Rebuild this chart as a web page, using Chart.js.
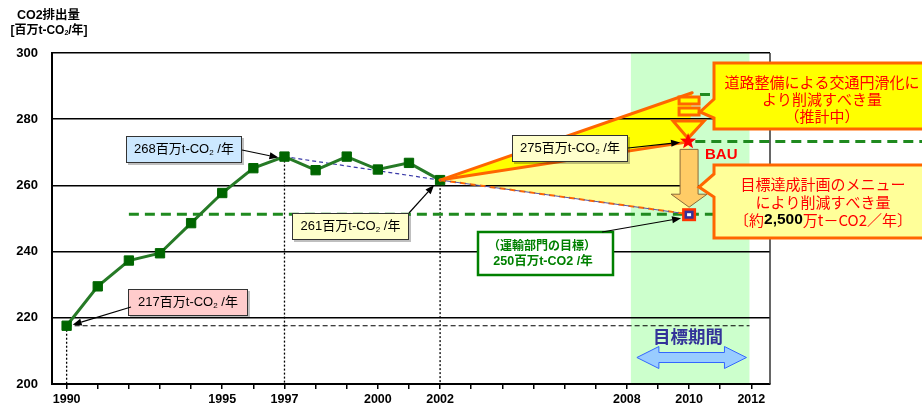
<!DOCTYPE html>
<html>
<head>
<meta charset="utf-8">
<script src="https://cdn.jsdelivr.net/npm/chart.js"></script>
<style>
  html, body { margin: 0; padding: 0; background: #fff; }
  #wrap { width: 922px; height: 408px; position: relative; }
</style>
</head>
<body>
<div id="wrap"><canvas id="c" width="922" height="408"></canvas></div>
<script>
// --- data ---
const years = [1990, 1991, 1992, 1993, 1994, 1995, 1996, 1997, 1998, 1999, 2000, 2001, 2002];
const emissions = [217.6, 229.5, 237.3, 239.5, 248.6, 257.7, 265.2, 268.7, 264.6, 268.7, 264.8, 266.8, 261.6];
const tickYears = [1990, 1991, 1992, 1993, 1994, 1995, 1996, 1997, 1998, 1999, 2000, 2001,
                   2002, 2003, 2004, 2005, 2006, 2007, 2008, 2009, 2010, 2011, 2012];
const labelYears = [1990, 1995, 1997, 2000, 2002, 2008, 2010, 2012];
const yTicks = [200, 220, 240, 260, 280, 300];

const targetYear = 2010;
const targetLevel = 251.3;   // 運輸部門の目標 (250)
const bauLevel = 273.3;      // BAU (275)
const roadTop = 288;         // 道路整備分の上端
const periodStart = 2008.13; // 目標期間
const periodEnd = 2011.94;

const FONT = '"Liberation Sans", "Noto Sans CJK JP", sans-serif';
const JP = '"Noto Sans CJK JP", "Liberation Sans", sans-serif';

Chart.defaults.font.family = FONT;

function line(pts, color, width, dash, extra) {
  return Object.assign({
    data: pts, borderColor: color, borderWidth: width, borderDash: dash || [],
    pointRadius: 0, fill: false, tension: 0
  }, extra || {});
}

// --- drawing helpers ---
function arrow(ctx, x1, y1, x2, y2) {
  const a = Math.atan2(y2 - y1, x2 - x1), L = 9, W = 3.5;
  ctx.save();
  ctx.strokeStyle = '#000'; ctx.fillStyle = '#000'; ctx.lineWidth = 1.2;
  ctx.beginPath(); ctx.moveTo(x1, y1);
  ctx.lineTo(x2 - Math.cos(a) * L, y2 - Math.sin(a) * L); ctx.stroke();
  ctx.beginPath();
  ctx.moveTo(x2, y2);
  ctx.lineTo(x2 - Math.cos(a) * L - Math.sin(a) * W, y2 - Math.sin(a) * L + Math.cos(a) * W);
  ctx.lineTo(x2 - Math.cos(a) * L + Math.sin(a) * W, y2 - Math.sin(a) * L - Math.cos(a) * W);
  ctx.closePath(); ctx.fill();
  ctx.restore();
}

function rich(ctx, parts, cx, cy) {
  let w = 0;
  parts.forEach(p => {
    ctx.font = (p.b ? 'bold ' : '') + p.s + 'px ' + (p.f || FONT);
    p.w = ctx.measureText(p.t).width; w += p.w;
  });
  let x = cx - w / 2;
  ctx.textAlign = 'left'; ctx.textBaseline = 'middle';
  parts.forEach(p => {
    ctx.font = (p.b ? 'bold ' : '') + p.s + 'px ' + (p.f || FONT);
    ctx.fillStyle = p.c || '#000';
    ctx.fillText(p.t, x, cy + (p.dy || 0));
    x += p.w;
  });
}

function co2(num, opts) {
  const o = Object.assign({ s: 13, c: '#000', b: false }, opts || {});
  return [
    { t: num + '百万t-CO', s: o.s, c: o.c, b: o.b },
    { t: '2', s: Math.round(o.s * 0.6), c: o.c, b: o.b, dy: 3 },
    { t: ' /年', s: o.s, c: o.c, b: o.b }
  ];
}

function box(ctx, x1, y1, x2, y2, fill) {
  ctx.save();
  ctx.fillStyle = 'rgba(0,0,0,0.25)';
  ctx.fillRect(x1 + 2, y1 + 2, x2 - x1, y2 - y1);
  ctx.fillStyle = fill; ctx.fillRect(x1, y1, x2 - x1, y2 - y1);
  ctx.strokeStyle = '#333'; ctx.lineWidth = 1;
  ctx.strokeRect(x1 + 0.5, y1 + 0.5, x2 - x1 - 1, y2 - y1 - 1);
  ctx.restore();
}

function callout(ctx, x1, y1, x2, y2, wa, tip, wb, fill) {
  ctx.save();
  ctx.beginPath();
  ctx.moveTo(x1, y1); ctx.lineTo(x2, y1); ctx.lineTo(x2, y2); ctx.lineTo(x1, y2);
  ctx.lineTo(x1, wb); ctx.lineTo(tip[0], tip[1]); ctx.lineTo(x1, wa); ctx.closePath();
  ctx.fillStyle = fill; ctx.fill();
  ctx.strokeStyle = '#ff6600'; ctx.lineWidth = 3; ctx.lineJoin = 'miter'; ctx.stroke();
  ctx.restore();
}

function star(ctx, cx, cy, R, r) {
  ctx.beginPath();
  for (let i = 0; i < 10; i++) {
    const a = -Math.PI / 2 + i * Math.PI / 5, rr = i % 2 ? r : R;
    ctx.lineTo(cx + Math.cos(a) * rr, cy + Math.sin(a) * rr);
  }
  ctx.closePath();
}

const underlay = {
  id: 'underlay',
  beforeDraw(chart) {
    const { ctx, chartArea: a, scales: { x, y } } = chart;
    ctx.save();
    ctx.fillStyle = '#fff'; ctx.fillRect(0, 0, chart.width, chart.height);
    // 目標期間 band
    ctx.fillStyle = '#ccffcc';
    ctx.fillRect(x.getPixelForValue(periodStart), a.top, x.getPixelForValue(periodEnd) - x.getPixelForValue(periodStart), a.bottom - a.top);
    const x0 = x.getPixelForValue(2002), y0 = y.getPixelForValue(emissions[12]);
    const xt = x.getPixelForValue(targetYear);
    // pale wedge: BAU -> target
    ctx.beginPath();
    ctx.moveTo(x0, y0); ctx.lineTo(xt, y.getPixelForValue(bauLevel)); ctx.lineTo(xt, y.getPixelForValue(targetLevel));
    ctx.closePath(); ctx.fillStyle = '#ffff99'; ctx.fill();
    // bright wedge: road measures
    ctx.beginPath();
    ctx.moveTo(x0, y0); ctx.lineTo(x.getPixelForValue(2010.1), y.getPixelForValue(roadTop)); ctx.lineTo(xt, y.getPixelForValue(bauLevel));
    ctx.closePath(); ctx.fillStyle = '#ffff00'; ctx.fill();
    ctx.restore();
  }
};

const overlay = {
  id: 'overlay',
  afterDraw(chart) {
    const { ctx, chartArea: a, scales: { x, y } } = chart;
    const X = v => x.getPixelForValue(v), Y = v => y.getPixelForValue(v);
    const x0 = X(2002), y0 = Y(emissions[12]);
    const xt = X(targetYear), yb = Y(bauLevel), yg = Y(targetLevel);
    ctx.save();

    // right frame
    ctx.strokeStyle = '#333'; ctx.lineWidth = 1.5;
    ctx.beginPath(); ctx.moveTo(a.right, a.top); ctx.lineTo(a.right, a.bottom); ctx.stroke();

    // wedge edges
    ctx.strokeStyle = '#ff6600'; ctx.lineWidth = 3; ctx.lineCap = 'round';
    ctx.beginPath(); ctx.moveTo(x0, y0); ctx.lineTo(X(2010.1), Y(roadTop)); ctx.stroke();
    ctx.beginPath(); ctx.moveTo(x0, y0); ctx.lineTo(xt - 4, yb + 1); ctx.stroke();
    ctx.lineCap = 'butt';
    ctx.lineWidth = 2; ctx.setLineDash([6, 4]);
    ctx.beginPath(); ctx.moveTo(x0, y0); ctx.lineTo(xt, yg); ctx.stroke();
    ctx.strokeStyle = '#5555aa'; ctx.lineWidth = 1; ctx.lineDashOffset = 5;
    ctx.beginPath(); ctx.moveTo(x0, y0); ctx.lineTo(xt, yg); ctx.stroke();
    ctx.setLineDash([]); ctx.lineDashOffset = 0;

    // road reduction symbol (two bars + triangle)
    ctx.strokeStyle = '#ff6600'; ctx.lineWidth = 3; ctx.fillStyle = '#ffff00';
    ctx.fillRect(xt - 10, 97, 20, 7); ctx.strokeRect(xt - 10, 97, 20, 7);
    ctx.fillRect(xt - 10, 108, 20, 7); ctx.strokeRect(xt - 10, 108, 20, 7);
    ctx.beginPath(); ctx.moveTo(xt - 16, 121); ctx.lineTo(xt + 15, 121); ctx.lineTo(xt - 1, yb - 3); ctx.closePath();
    ctx.fill(); ctx.stroke();

    // block arrow BAU -> target
    const sT = yb + 8, hT = yg - 20, tip = yg - 7;
    ctx.beginPath();
    ctx.moveTo(xt - 9, sT); ctx.lineTo(xt + 9, sT); ctx.lineTo(xt + 9, hT); ctx.lineTo(xt + 18, hT);
    ctx.lineTo(xt, tip); ctx.lineTo(xt - 18, hT); ctx.lineTo(xt - 9, hT); ctx.closePath();
    ctx.fillStyle = '#ffcc66'; ctx.fill();
    ctx.strokeStyle = '#8a6a3a'; ctx.lineWidth = 1; ctx.stroke();

    // BAU star
    star(ctx, xt - 1, yb, 8.5, 3.6); ctx.fillStyle = '#ff0000'; ctx.fill();
    // target marker
    ctx.fillStyle = '#ff3300'; ctx.fillRect(xt - 7, yg - 6, 14, 13);
    ctx.fillStyle = '#333399'; ctx.fillRect(xt - 4.5, yg - 3.5, 9, 8);
    ctx.fillStyle = '#fff'; ctx.fillRect(xt - 2, yg - 1, 4, 3);

    ctx.fillStyle = '#ff0000'; ctx.font = 'bold 15px ' + FONT; ctx.textBaseline = 'middle'; ctx.textAlign = 'left';
    ctx.fillText('BAU', 705, 155);

    // small value boxes
    box(ctx, 126, 136, 242, 163, '#cce8ff');
    rich(ctx, co2('268'), 184, 149.5);
    arrow(ctx, 242, 150, X(1997) - 6, Y(emissions[7]) + 1);

    box(ctx, 128, 289, 248, 316, '#ffcccc');
    rich(ctx, co2('217'), 188, 302.5);
    arrow(ctx, 131, 307, X(1990) + 6, Y(emissions[0]) - 1);

    box(ctx, 292, 213, 409, 240, '#ffffcc');
    rich(ctx, co2('261'), 350.5, 226.5);
    arrow(ctx, 409, 213, x0 - 6, y0 + 5);

    box(ctx, 512, 135, 628, 162, '#ffffcc');
    rich(ctx, co2('275'), 570, 148.5);
    arrow(ctx, 628, 148, xt - 9, yb + 1);

    // 運輸部門の目標 box
    ctx.fillStyle = '#fff'; ctx.fillRect(478, 232, 135, 43);
    ctx.strokeStyle = '#008000'; ctx.lineWidth = 2.5; ctx.strokeRect(478, 232, 135, 43);
    rich(ctx, [{ t: '（運輸部門の目標）', s: 12, b: true, c: '#008000', f: JP }], 542, 245);
    rich(ctx, [{ t: '250百万t-CO2 /年', s: 12.5, b: true, c: '#008000' }], 543, 262);
    arrow(ctx, 602, 232, xt - 8, yg + 4);

    // big callouts
    callout(ctx, 714, 63, 935, 129, 99, [700, 112], 118, '#ffff00');
    rich(ctx, [{ t: '道路整備による交通円滑化に', s: 15, c: '#ff0000', f: JP }], 822, 82);
    rich(ctx, [{ t: 'より削減すべき量', s: 15, c: '#ff0000', f: JP }], 822, 99.5);
    rich(ctx, [{ t: '（推計中）', s: 15, c: '#ff0000', f: JP }], 822, 116);

    callout(ctx, 714, 165, 935, 238, 174, [699, 187], 197, '#ffff99');
    rich(ctx, [{ t: '目標達成計画のメニュー', s: 15, c: '#ff0000', f: JP }], 823, 184);
    rich(ctx, [{ t: 'により削減すべき量', s: 15, c: '#ff0000', f: JP }], 823, 202);
    rich(ctx, [
      { t: '〔約', s: 15, c: '#ff0000', f: JP },
      { t: '2,500', s: 15.5, c: '#000', b: true },
      { t: '万t－CO2／年〕', s: 15, c: '#ff0000', f: JP }
    ], 823, 220);

    // 目標期間
    ctx.fillStyle = '#333399'; ctx.font = 'bold 17.5px ' + JP; ctx.textAlign = 'center';
    ctx.fillText('目標期間', 688, 336);
    const l = X(periodStart) + 6, r = X(periodEnd) - 3, cy = 357.5;
    ctx.beginPath();
    ctx.moveTo(l, cy); ctx.lineTo(l + 22, cy - 11); ctx.lineTo(l + 22, cy - 5); ctx.lineTo(r - 22, cy - 5);
    ctx.lineTo(r - 22, cy - 11); ctx.lineTo(r, cy); ctx.lineTo(r - 22, cy + 11); ctx.lineTo(r - 22, cy + 5);
    ctx.lineTo(l + 22, cy + 5); ctx.lineTo(l + 22, cy + 11); ctx.closePath();
    ctx.fillStyle = '#99ccff'; ctx.fill();
    ctx.strokeStyle = '#3366ff'; ctx.lineWidth = 1; ctx.stroke();

    // axis title
    ctx.fillStyle = '#000'; ctx.textAlign = 'center';
    rich(ctx, [{ t: 'CO2排出量', s: 12.5, b: true }], 48.5, 15.5);
    rich(ctx, [
      { t: '[百万t-CO', s: 12, b: true },
      { t: '2', s: 7, b: true, dy: 2.5 },
      { t: '/年]', s: 12, b: true }
    ], 49, 30.5);
    ctx.restore();
  }
};

const green = '#1f8a1f';

new Chart(document.getElementById('c'), {
  type: 'line',
  data: {
    datasets: [
      line(years.map((yr, i) => ({ x: yr, y: emissions[i] })), '#267a26', 3, [], {
        pointStyle: 'rect', pointRadius: 6.6, pointBackgroundColor: '#006600',
        pointBorderColor: '#006600', pointBorderWidth: 1
      }),
      line([{ x: 1997, y: emissions[7] }, { x: 2002, y: emissions[12] }], '#3a3aa8', 1.2, [4, 3]),
      line([{ x: 1992, y: targetLevel }, { x: 2012.6, y: targetLevel }], green, 3, [10, 6]),
      line([{ x: 2010.2, y: bauLevel }, { x: 2017.6, y: bauLevel }], green, 3, [10, 6], { clip: false }),
      line([{ x: 2010.35, y: roadTop - 0.5 }, { x: 2011.5, y: roadTop - 0.5 }], green, 3, [10, 6]),
      line([{ x: 1990, y: emissions[0] }, { x: periodEnd, y: emissions[0] }], '#000', 1.2, [5, 3]),
      line([{ x: 1990, y: emissions[0] }, { x: 1990, y: 200 }], '#000', 1.3, [2, 2]),
      line([{ x: 1997, y: emissions[7] }, { x: 1997, y: 200 }], '#000', 1.3, [2, 2]),
      line([{ x: 2002, y: emissions[12] }, { x: 2002, y: 200 }], '#000', 1.3, [2, 2])
    ]
  },
  options: {
    responsive: false,
    animation: false,
    devicePixelRatio: 1,
    layout: { padding: { left: 0, top: 53, right: 152, bottom: 0 } },
    plugins: { legend: { display: false }, tooltip: { enabled: false } },
    scales: {
      x: {
        type: 'linear', min: 1989.53, max: 2012.6,
        afterBuildTicks: s => { s.ticks = tickYears.map(v => ({ value: v })); },
        afterFit: s => { s.height = 24; },
        grid: { drawOnChartArea: false, drawTicks: true, tickLength: 5, color: '#000', lineWidth: 1.5 },
        border: { color: '#000', width: 2 },
        ticks: {
          autoSkip: false, maxRotation: 0, padding: 3, color: '#000',
          font: { size: 12.5, weight: 'bold' },
          callback: v => labelYears.includes(v) ? String(v) : ''
        }
      },
      y: {
        min: 200, max: 300,
        afterBuildTicks: s => { s.ticks = yTicks.map(v => ({ value: v })); },
        afterFit: s => { s.width = 52; },
        grid: { color: '#000', lineWidth: 1.5, drawTicks: false },
        border: { color: '#000', width: 2 },
        ticks: { padding: 14, color: '#000', font: { size: 13, weight: 'bold' } }
      }
    }
  },
  plugins: [underlay, overlay]
});
</script>
</body>
</html>
